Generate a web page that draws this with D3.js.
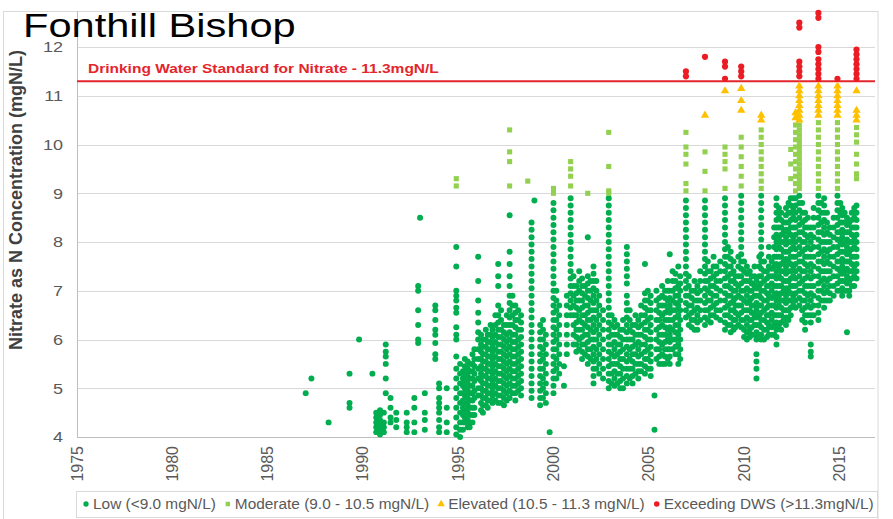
<!DOCTYPE html>
<html>
<head>
<meta charset="utf-8">
<script src="https://cdn.jsdelivr.net/npm/d3@7"></script>
<style>
    body { margin: 0; background: #fff; }
    svg { display: block; font-family: "Liberation Sans", Arial, sans-serif; }
</style>
</head>
<body>
<div id="chart"></div>
<script>
var chartTitle = "Fonthill Bishop";
var yAxisTitle = "Nitrate as N Concentration (mgN/L)";
var dwsLabel = "Drinking Water Standard for Nitrate - 11.3mgN/L";
var dwsValue = 11.3;

var yearTicks = [1975, 1980, 1985, 1990, 1995, 2000, 2005, 2010, 2015];
var valueTicks = [4, 5, 6, 7, 8, 9, 10, 11, 12];

var bandNames = ["Low (<9.0 mgN/L)", "Moderate (9.0 - 10.5 mgN/L)",
    "Elevated (10.5 - 11.3 mgN/L)", "Exceeding DWS (>11.3mgN/L)"];
var bandLimits = [9.0, 10.5, 11.3];

// [decimal year, nitrate readings taken around that time]
var samples1987to1994 = [
    [1987.0, [4.9]],
    [1987.3, [5.2]],
    [1988.2, [4.3]],
    [1989.3, [5.3, 4.7, 4.6]],
    [1989.8, [6.0]],
    [1990.5, [5.3]],
    [1990.7, [4.5, 4.4, 4.3, 4.2, 4.1]],
    [1990.9, [4.55, 4.45, 4.35, 4.25, 4.15, 4.05]],
    [1991.1, [4.5, 4.3, 4.2, 4.1]],
    [1991.2, [5.9, 5.75, 5.65, 5.5, 5.2, 4.9]],
    [1991.45, [4.8, 4.6, 4.4, 4.3]],
    [1991.75, [4.5, 4.35, 4.2]],
    [1992.3, [4.5, 4.3, 4.2, 4.1]],
    [1992.7, [4.8, 4.6, 4.3, 4.1]],
    [1992.9, [7.1, 7.0, 6.6, 6.3, 6.0, 5.93]],
    [1993.0, [8.5]],
    [1993.25, [4.9, 4.5, 4.35, 4.15]],
    [1993.8, [6.7, 6.6, 6.4, 6.2, 6.1, 5.93, 5.7, 5.6]],
    [1994.0, [5.1, 5.0, 4.8, 4.7, 4.6, 4.5, 4.35, 4.2, 4.1]],
    [1994.4, [5.0, 4.6, 4.3, 4.1]]
];

var samples1995to1999 = [
    [1994.9, [9.3, 9.15, 7.9, 7.5, 7.0, 6.9, 6.8, 6.65, 6.55, 6.25, 6.1, 6.0, 5.65, 5.4, 5.2, 5.0, 4.8, 4.6, 4.4, 4.2, 4.05]],
    [1995.1, [5.5, 5.3, 5.1, 4.9, 4.7, 4.5, 4.3, 4.15, 4.0]],
    [1995.25, [5.35, 5.2, 5.05, 4.9, 4.75, 4.6, 4.45, 4.3, 4.15]],
    [1995.35, [5.6, 5.45, 5.3, 5.15, 5.0, 4.85, 4.7, 4.55, 4.4, 4.3]],
    [1995.5, [5.55, 5.4, 5.25, 5.1, 4.95, 4.8, 4.65, 4.5, 4.35, 4.2]],
    [1995.6, [5.5, 5.35, 5.2, 5.05, 4.9, 4.75, 4.6, 4.45, 4.3, 4.2]],
    [1995.75, [5.7, 5.5, 5.35, 5.2, 5.05, 4.9, 4.75, 4.6, 4.45, 4.3]],
    [1995.85, [5.8, 5.6, 5.45, 5.3, 5.15, 4.95, 4.8, 4.6, 4.45]],
    [1996.05, [7.7, 7.2, 6.8, 6.55, 6.35, 6.15, 6.0, 5.8, 5.6, 5.4, 5.2, 5.0, 4.85]],
    [1996.2, [6.1, 5.9, 5.75, 5.6, 5.45, 5.3, 5.15, 5.0, 4.85, 4.7, 4.55]],
    [1996.3, [6.0, 5.85, 5.7, 5.55, 5.4, 5.25, 5.1, 4.95, 4.8, 4.65, 4.5]],
    [1996.45, [6.2, 6.0, 5.85, 5.7, 5.55, 5.4, 5.25, 5.1, 4.95, 4.8, 4.65]],
    [1996.55, [6.1, 5.95, 5.8, 5.65, 5.5, 5.35, 5.2, 5.05, 4.9, 4.75, 4.6]],
    [1996.7, [6.3, 6.1, 5.95, 5.8, 5.65, 5.5, 5.35, 5.2, 5.05, 4.9, 4.75]],
    [1996.8, [6.2, 6.05, 5.9, 5.75, 5.6, 5.45, 5.3, 5.15, 5.0, 4.85, 4.7]],
    [1996.95, [6.5, 6.3, 6.1, 5.95, 5.8, 5.65, 5.5, 5.35, 5.2, 5.05, 4.9, 4.75]],
    [1997.1, [7.55, 7.3, 7.1, 6.7, 6.5, 6.35, 6.2, 6.05, 5.9, 5.75, 5.6, 5.45, 5.3, 5.15, 5.0, 4.85, 4.7]],
    [1997.25, [6.6, 6.4, 6.2, 6.05, 5.9, 5.75, 5.6, 5.45, 5.3, 5.15, 5.0, 4.85, 4.7]],
    [1997.4, [6.3, 6.15, 6.0, 5.85, 5.7, 5.55, 5.4, 5.25, 5.1, 4.95, 4.8, 4.65]],
    [1997.55, [6.5, 6.3, 6.1, 5.95, 5.8, 5.65, 5.5, 5.35, 5.2, 5.05, 4.9, 4.75]],
    [1997.7, [10.3, 9.85, 9.65, 9.15, 8.55, 7.8, 7.55, 7.3, 7.1, 6.9, 6.75, 6.6, 6.45, 6.3, 6.15, 6.0, 5.85, 5.7, 5.55, 5.4, 5.25, 5.1, 4.95, 4.8]],
    [1997.85, [6.9, 6.7, 6.5, 6.3, 6.1, 5.95, 5.8, 5.65, 5.5, 5.35, 5.2, 5.05, 4.9]],
    [1998.0, [6.7, 6.55, 6.4, 6.25, 6.1, 5.95, 5.8, 5.65, 5.5, 5.35, 5.2, 5.05, 4.9, 4.75]],
    [1998.15, [6.6, 6.4, 6.2, 6.0, 5.85, 5.7, 5.55, 5.4, 5.25, 5.1, 4.95]],
    [1998.3, [6.5, 6.35, 6.2, 6.05, 5.9, 5.75, 5.6, 5.45, 5.3, 5.15, 5.0, 4.85]],
    [1998.65, [9.25]],
    [1998.85, [8.4, 8.25, 8.1, 7.95, 7.8, 7.65, 7.5, 7.35, 7.2, 7.05, 6.9, 6.75, 6.6, 6.45, 6.3, 6.15, 6.0, 5.85, 5.7, 5.55, 5.4, 5.25, 5.1, 4.95, 4.8]],
    [1999.0, [8.85]],
    [1999.3, [6.3, 6.15, 6.0, 5.85, 5.7, 5.55, 5.4, 5.25, 5.1, 4.95, 4.8, 4.65]],
    [1999.45, [6.4, 6.2, 6.0, 5.8, 5.6, 5.4, 5.2, 5.0, 4.8]],
    [1999.6, [6.1, 5.9, 5.7, 5.5, 5.3, 5.1, 4.9, 4.7]],
    [1999.8, [4.1]]
];

var samples2000to2004 = [
    [2000.0, [9.1, 9.0, 8.8, 8.65, 8.5, 8.35, 8.2, 8.05, 7.9, 7.75, 7.6, 7.45, 7.3, 7.15, 7.0, 6.85, 6.7, 6.55, 6.4, 6.25, 6.1, 5.95, 5.8, 5.65, 5.5, 5.35, 5.2, 5.05, 4.9]],
    [2000.15, [7.0, 6.8, 6.6, 6.4, 6.2, 6.0, 5.8, 5.6, 5.4, 5.2]],
    [2000.3, [6.7, 6.5, 6.3, 6.1, 5.9, 5.7, 5.5, 5.3]],
    [2000.55, [5.45, 5.05]],
    [2000.7, [6.9, 6.7, 6.5, 6.3, 6.1, 5.9, 5.7]],
    [2000.9, [9.65, 9.5, 9.35, 9.15, 8.9, 8.75, 8.6, 8.45, 8.3, 8.15, 8.0, 7.85, 7.7, 7.55, 7.4, 7.25, 7.1, 6.95, 6.8, 6.65, 6.5]],
    [2001.05, [7.3, 7.1, 6.9, 6.7, 6.5, 6.3, 6.1, 5.9]],
    [2001.2, [7.1, 6.95, 6.8, 6.65, 6.5, 6.35, 6.2, 6.05, 5.9, 5.75]],
    [2001.35, [7.4, 7.2, 7.0, 6.8, 6.6, 6.4, 6.2, 6.0, 5.8]],
    [2001.5, [7.25, 7.1, 6.95, 6.8, 6.65, 6.5, 6.35, 6.2, 6.05, 5.9, 5.75, 5.6]],
    [2001.65, [7.1, 6.9, 6.7, 6.5, 6.3, 6.1, 5.9, 5.7]],
    [2001.8, [9.0, 8.1, 7.3, 7.15, 7.0, 6.85, 6.7, 6.55, 6.4, 6.25, 6.1, 5.95, 5.8, 5.65, 5.5]],
    [2001.95, [7.2, 7.0, 6.8, 6.6, 6.4, 6.2, 6.0, 5.8, 5.6]],
    [2002.1, [7.5, 7.35, 7.2, 7.05, 6.9, 6.75, 6.6, 6.45, 6.3, 6.15, 6.0, 5.85, 5.7, 5.55, 5.4, 5.25, 5.1]],
    [2002.25, [7.2, 7.0, 6.8, 6.6, 6.4, 6.2, 6.0, 5.8, 5.6, 5.4]],
    [2002.4, [6.9, 6.7, 6.5, 6.3, 6.1, 5.9, 5.7, 5.5, 5.3]],
    [2002.6, [6.6, 6.4, 6.2, 6.0, 5.8, 5.6, 5.4, 5.2]],
    [2002.9, [10.25, 9.55, 9.05, 9.0, 8.9, 8.75, 8.6, 8.45, 8.3, 8.15, 8.0, 7.85, 7.7, 7.55, 7.4, 7.25, 7.1, 6.95, 6.8, 6.65, 6.5, 6.35, 6.2, 6.05, 5.9, 5.75, 5.6, 5.45, 5.3, 5.15, 5.0]],
    [2003.05, [6.5, 6.3, 6.1, 5.9, 5.7, 5.5, 5.3, 5.1]],
    [2003.2, [6.4, 6.25, 6.1, 5.95, 5.8, 5.65, 5.5, 5.35, 5.2, 5.05]],
    [2003.35, [6.3, 6.1, 5.9, 5.7, 5.5, 5.3, 5.1]],
    [2003.5, [6.2, 6.05, 5.9, 5.75, 5.6, 5.45, 5.3, 5.15, 5.0]],
    [2003.65, [6.4, 6.2, 6.0, 5.8, 5.6, 5.4, 5.2, 5.0]],
    [2003.85, [7.9, 7.75, 7.6, 7.45, 7.3, 7.15, 6.9, 6.75, 6.6, 6.45, 6.3, 6.15, 6.0, 5.85, 5.7, 5.55, 5.4, 5.25, 5.1]],
    [2004.0, [6.6, 6.4, 6.2, 6.0, 5.8, 5.6, 5.4, 5.2]],
    [2004.15, [6.3, 6.15, 6.0, 5.85, 5.7, 5.55, 5.4, 5.25, 5.1]],
    [2004.3, [6.5, 6.3, 6.1, 5.9, 5.7, 5.5, 5.3]],
    [2004.45, [6.4, 6.25, 6.1, 5.95, 5.8, 5.65, 5.5, 5.35, 5.2]],
    [2004.6, [6.7, 6.5, 6.3, 6.1, 5.9, 5.7, 5.5, 5.35]],
    [2004.8, [7.55, 6.95, 6.8, 6.65, 6.5, 6.35, 6.2, 6.05, 5.9, 5.75, 5.6, 5.45, 5.3]],
    [2004.95, [7.0, 6.8, 6.6, 6.4, 6.2, 6.0, 5.8, 5.6, 5.4]]
];

var samples2005to2009 = [
    [2005.1, [6.9, 6.75, 6.6, 6.45, 6.3, 6.15, 6.0, 5.85, 5.7, 5.55, 5.4, 5.25]],
    [2005.3, [4.85, 4.15]],
    [2005.4, [7.0, 6.8, 6.6, 6.4, 6.2, 6.0, 5.8, 5.6]],
    [2005.55, [6.85, 6.7, 6.55, 6.4, 6.25, 6.1, 5.95, 5.8, 5.65, 5.5]],
    [2005.7, [7.1, 6.9, 6.7, 6.5, 6.3, 6.1, 5.9, 5.7, 5.5]],
    [2005.85, [7.0, 6.85, 6.7, 6.55, 6.4, 6.25, 6.1, 5.95, 5.8, 5.65, 5.5]],
    [2006.0, [7.2, 7.0, 6.8, 6.6, 6.4, 6.2, 6.0, 5.8, 5.6]],
    [2006.1, [7.75, 7.0, 6.85, 6.7, 6.55, 6.4, 6.25, 6.1, 5.95, 5.8, 5.65, 5.5]],
    [2006.25, [7.4, 7.2, 7.0, 6.8, 6.6, 6.4, 6.2, 6.0, 5.8]],
    [2006.4, [7.35, 7.2, 7.05, 6.9, 6.75, 6.6, 6.45, 6.3, 6.15, 6.0, 5.85, 5.7]],
    [2006.55, [7.5, 7.1, 6.9, 6.7, 6.5, 6.3, 6.1, 5.9, 5.7, 5.5]],
    [2006.65, [7.3, 7.15, 7.0, 6.8, 6.6, 6.4, 6.2, 6.0, 5.8, 5.6]],
    [2006.95, [11.5, 11.4, 10.25, 9.95, 9.8, 9.6, 9.2, 9.05, 8.85, 8.7, 8.55, 8.4, 8.25, 8.1, 7.95, 7.8, 7.65, 7.5, 7.35, 7.2, 7.05, 6.9, 6.75, 6.6, 6.45]],
    [2007.1, [7.3, 7.1, 6.9, 6.7, 6.5, 6.3]],
    [2007.25, [7.0, 6.85, 6.7, 6.55, 6.4, 6.25]],
    [2007.4, [7.2, 7.0, 6.8, 6.6, 6.4, 6.2]],
    [2007.55, [7.1, 6.95, 6.8, 6.65, 6.5, 6.35, 6.2]],
    [2007.7, [7.4, 7.2, 7.0, 6.8, 6.6, 6.4]],
    [2007.95, [11.8, 10.6, 9.85, 9.45, 9.05, 8.85, 8.7, 8.55, 8.4, 8.25, 8.1, 7.95, 7.8, 7.65, 7.5, 7.35, 7.2, 7.05, 6.9, 6.75, 6.6, 6.45, 6.3]],
    [2008.1, [7.6, 7.4, 7.2, 7.0, 6.8, 6.6, 6.4]],
    [2008.25, [7.4, 7.25, 7.1, 6.95, 6.8, 6.65, 6.5, 6.35]],
    [2008.4, [7.7, 7.5, 7.3, 7.1, 6.9, 6.7, 6.5]],
    [2008.55, [7.5, 7.35, 7.2, 7.05, 6.9, 6.75, 6.6, 6.45]],
    [2008.75, [7.6, 7.4, 7.2, 7.0, 6.8, 6.6, 6.4]],
    [2009.0, [11.7, 11.6, 11.35, 11.1, 9.95, 9.8, 9.65, 9.5, 9.1, 8.9, 8.75, 8.6, 8.45, 8.3, 8.15, 8.0, 7.85, 7.7, 7.55, 7.4, 7.25, 7.1, 6.95, 6.8, 6.65, 6.5, 6.35, 6.2]],
    [2009.15, [7.9, 7.7, 7.5, 7.3, 7.1, 6.9, 6.7, 6.5, 6.3]],
    [2009.3, [7.8, 7.65, 7.5, 7.35, 7.2, 7.05, 6.9, 6.75, 6.6, 6.45, 6.3, 6.15]],
    [2009.45, [7.6, 7.4, 7.2, 7.0, 6.8, 6.6, 6.4, 6.2]],
    [2009.55, [7.3, 7.15, 7.0, 6.85, 6.7, 6.55, 6.4, 6.25]],
    [2009.7, [7.7, 7.5, 7.3, 7.1, 6.9, 6.7, 6.5, 6.3]],
    [2009.85, [11.6, 11.5, 11.4, 11.15, 10.9, 10.7, 10.15, 9.95, 9.75, 9.55, 9.35, 9.15, 8.95, 8.8, 8.65, 8.5, 8.35, 8.2, 8.05, 7.9, 7.75, 7.6, 7.45, 7.3, 7.15, 7.0, 6.85, 6.7, 6.55, 6.4, 6.25]]
];

var samples2010to2016 = [
    [2010.0, [7.6, 7.4, 7.2, 7.0, 6.8, 6.6, 6.4, 6.2, 6.05]],
    [2010.15, [7.5, 7.35, 7.2, 7.05, 6.9, 6.75, 6.6, 6.45, 6.3, 6.15, 6.0]],
    [2010.3, [7.4, 7.2, 7.0, 6.8, 6.6, 6.4, 6.2, 6.05]],
    [2010.4, [7.3, 7.15, 7.0, 6.85, 6.7, 6.55, 6.4, 6.25, 6.1]],
    [2010.55, [7.5, 7.3, 7.1, 6.9, 6.7, 6.5, 6.3, 6.1]],
    [2010.65, [7.2, 7.05, 6.9, 6.75, 6.6, 6.45, 6.3, 6.15, 6.0, 5.7, 5.55, 5.4, 5.2]],
    [2010.8, [7.7, 7.5, 7.3, 7.1, 6.9, 6.7, 6.5, 6.3, 6.1]],
    [2010.9, [10.6, 10.5, 10.3, 10.15, 10.0, 9.85, 9.7, 9.55, 9.4, 9.25, 9.1, 8.95, 8.8, 8.65, 8.5, 8.35, 8.2, 8.05, 7.9, 7.75, 7.6, 7.45, 7.3, 7.15, 7.0, 6.85, 6.7, 6.55, 6.4, 6.25, 6.1, 6.0]],
    [2011.05, [7.6, 7.4, 7.2, 7.0, 6.8, 6.6, 6.4, 6.2, 6.0]],
    [2011.2, [7.4, 7.25, 7.1, 6.95, 6.8, 6.65, 6.5, 6.35, 6.2, 6.05]],
    [2011.3, [7.9, 7.7, 7.5, 7.3, 7.1, 6.9, 6.7, 6.5, 6.3, 6.1]],
    [2011.45, [7.6, 7.45, 7.3, 7.15, 7.0, 6.85, 6.7, 6.55, 6.4, 6.25, 6.1]],
    [2011.58, [8.3, 8.1, 7.9, 7.7, 7.5, 7.3, 7.1, 6.9, 6.7, 6.5, 6.3, 6.1]],
    [2011.7, [8.9, 8.75, 8.6, 8.45, 8.3, 8.15, 8.0, 7.85, 7.7, 7.55, 7.4, 7.25, 7.1, 6.95, 6.8, 6.65, 6.5, 6.35, 6.2, 6.05, 5.9]],
    [2011.83, [8.7, 8.5, 8.3, 8.1, 7.9, 7.7, 7.5, 7.3, 7.1, 6.9, 6.7, 6.5, 6.3]],
    [2011.95, [8.6, 8.45, 8.3, 8.15, 8.0, 7.85, 7.7, 7.55, 7.4, 7.25, 7.1, 6.95, 6.8, 6.65, 6.5, 6.35, 6.2]],
    [2012.08, [8.4, 8.2, 8.0, 7.8, 7.6, 7.4, 7.2, 7.0, 6.8, 6.6, 6.4]],
    [2012.2, [8.7, 8.55, 8.4, 8.25, 8.1, 7.95, 7.8, 7.65, 7.5, 7.35, 7.2, 7.05, 6.9, 6.75, 6.6, 6.45, 6.3]],
    [2012.33, [8.8, 8.6, 8.4, 8.2, 8.0, 7.8, 7.6, 7.4, 7.2, 7.0, 6.8, 6.6, 6.4]],
    [2012.45, [9.9, 9.6, 9.3, 8.9, 8.75, 8.6, 8.45, 8.3, 8.15, 8.0, 7.85, 7.7, 7.55, 7.4, 7.25, 7.1, 6.95, 6.8, 6.65, 6.5]],
    [2012.58, [8.9, 8.7, 8.5, 8.3, 8.1, 7.9, 7.7, 7.5, 7.3, 7.1, 6.9, 6.7]],
    [2012.7, [10.65, 10.55, 10.4, 10.25, 10.1, 9.95, 9.8, 9.65, 9.5, 9.35, 9.2, 9.05, 8.9, 8.75, 8.6, 8.45, 8.3, 8.15, 8.0, 7.85, 7.7, 7.55, 7.4, 7.25, 7.1, 6.95, 6.8, 6.65]],
    [2012.9, [12.5, 12.4, 11.7, 11.6, 11.5, 11.4, 11.2, 11.1, 11.0, 10.9, 10.8, 10.7, 10.6, 10.5, 10.4, 10.3, 10.2, 10.1, 10.0, 9.9, 9.8, 9.7, 9.6, 9.5, 9.4, 9.3, 9.2, 9.1, 8.95, 8.8, 8.65, 8.5, 8.35, 8.2, 8.05, 7.9, 7.75, 7.6, 7.45, 7.3, 7.15, 7.0, 6.85, 6.7]],
    [2013.05, [8.8, 8.6, 8.4, 8.2, 8.0, 7.8, 7.6, 7.4, 7.2, 7.0, 6.8, 6.6, 6.4]],
    [2013.2, [8.6, 8.45, 8.3, 8.15, 8.0, 7.85, 7.7, 7.55, 7.4, 7.25, 7.1, 6.95, 6.8, 6.65, 6.5, 6.35, 6.2]],
    [2013.35, [8.5, 8.3, 8.1, 7.9, 7.7, 7.5, 7.3, 7.1, 6.9, 6.7, 6.5]],
    [2013.5, [8.3, 8.15, 8.0, 7.85, 7.7, 7.55, 7.4, 7.25, 7.1, 6.95, 6.8, 6.65, 6.5, 6.35, 5.9, 5.75, 5.65]],
    [2013.65, [8.7, 8.5, 8.3, 8.1, 7.9, 7.7, 7.5, 7.3, 7.1, 6.9, 6.7, 6.5]],
    [2013.9, [12.7, 12.6, 12.0, 11.9, 11.75, 11.65, 11.55, 11.45, 11.35, 11.2, 11.1, 11.0, 10.9, 10.8, 10.7, 10.6, 10.45, 10.3, 10.15, 10.0, 9.85, 9.7, 9.55, 9.4, 9.25, 9.1, 8.95, 8.8, 8.65, 8.5, 8.35, 8.2, 8.05, 7.9, 7.75, 7.6, 7.45, 7.3, 7.15, 7.0, 6.85, 6.7, 6.55, 6.4]],
    [2014.05, [8.8, 8.6, 8.4, 8.2, 8.0, 7.8, 7.6, 7.4, 7.2, 7.0, 6.8]],
    [2014.2, [8.9, 8.75, 8.6, 8.45, 8.3, 8.15, 8.0, 7.85, 7.7, 7.55, 7.4, 7.25, 7.1, 6.95, 6.8, 6.65]],
    [2014.35, [8.6, 8.4, 8.2, 8.0, 7.8, 7.6, 7.4, 7.2, 7.0, 6.8]],
    [2014.5, [8.3, 8.15, 8.0, 7.85, 7.7, 7.55, 7.4, 7.25, 7.1, 6.95, 6.8]],
    [2014.7, [8.5, 8.3, 8.1, 7.9, 7.7, 7.5, 7.3, 7.1, 6.9]],
    [2014.9, [11.35, 11.2, 11.1, 11.0, 10.9, 10.8, 10.7, 10.6, 10.45, 10.3, 10.15, 10.0, 9.85, 9.7, 9.55, 9.4, 9.25, 9.1, 8.95, 8.8, 8.65, 8.5, 8.35, 8.2, 8.05, 7.9, 7.75, 7.6, 7.45, 7.3, 7.15, 7.0]],
    [2015.05, [8.8, 8.6, 8.4, 8.2, 8.0, 7.8, 7.6, 7.4, 7.2, 7.0]],
    [2015.15, [8.7, 8.55, 8.4, 8.25, 8.1, 7.95, 7.8, 7.65, 7.5, 7.35, 7.2, 7.05, 6.9]],
    [2015.28, [8.6, 8.4, 8.2, 8.0, 7.8, 7.6, 7.4, 7.2, 7.0]],
    [2015.4, [8.5, 8.35, 8.2, 8.05, 7.9, 7.75, 7.6, 7.45, 7.3, 7.15, 7.0, 6.15]],
    [2015.52, [8.4, 8.2, 8.0, 7.8, 7.6, 7.4, 7.2, 7.0, 6.9]],
    [2015.65, [8.6, 8.45, 8.3, 8.15, 8.0, 7.85, 7.7, 7.55, 7.4, 7.25, 7.1]],
    [2015.78, [8.7, 8.5, 8.3, 8.1, 7.9, 7.7, 7.5, 7.3, 7.1]],
    [2015.9, [11.95, 11.85, 11.75, 11.65, 11.55, 11.45, 11.35, 11.1, 10.7, 10.6, 10.5, 10.35, 10.2, 10.05, 9.8, 9.6, 9.4, 9.3, 8.75, 8.6, 8.45, 8.3, 8.15, 8.0, 7.85, 7.7, 7.55, 7.4, 7.25]]
];

function classify(v) {
    if (v > bandLimits[2]) return 3;
    if (v >= bandLimits[1]) return 2;
    if (v >= bandLimits[0]) return 1;
    return 0;
}

function flattenSamples(groups) {
    var points = [];
    groups.forEach(function (g) {
        g.forEach(function (s) {
            s[1].forEach(function (v) {
                points.push({year: s[0], value: v, band: classify(v)});
            });
        });
    });
    // later bands are drawn on top, like the spreadsheet series order
    points.sort(function (a, b) { return a.band - b.band; });
    return points;
}

// the source picture is a little wider than tall, so horizontal texts get stretched
function stretchText(sel, factor) {
    var w = sel.node().getComputedTextLength();
    sel.attr("textLength", w * factor).attr("lengthAdjust", "spacingAndGlyphs");
    return w * factor;
}

function drawNitrateChart(id) {
    var width = 893, height = 519;
    var plot = {left: 77, right: 875, top: 11, bottom: 437};

    var svg = d3.select("#" + id).append("svg")
        .attr("width", width)
        .attr("height", height);

    svg.append("rect")
        .attr("width", width)
        .attr("height", height)
        .attr("fill", "#fff");

    // outer chart frame
    svg.append("rect")
        .attr("x", 3.5)
        .attr("y", 11.5)
        .attr("width", 874.5)
        .attr("height", 520)
        .attr("fill", "none")
        .attr("stroke", "#d9d9d9");

    var x = d3.scaleLinear().domain([1975, 2016.87]).range([plot.left, plot.right]);
    var y = d3.scaleLinear().domain([4, 12.74]).range([plot.bottom, plot.top]);

    var z = d3.scaleOrdinal()
        .domain([0, 1, 2, 3])
        .range(["#00ad4f", "#92d050", "#ffc000", "#ec1c24"]);
    var shapes = [d3.symbolCircle, d3.symbolSquare, d3.symbolTriangle, d3.symbolCircle];
    var sizes = [28, 26, 30, 30];

    // gridlines
    svg.append("g")
        .selectAll("line")
        .data(valueTicks.slice(1))
        .enter().append("line")
        .attr("x1", plot.left)
        .attr("x2", plot.right)
        .attr("y1", function (d) { return Math.round(y(d)) + 0.5; })
        .attr("y2", function (d) { return Math.round(y(d)) + 0.5; })
        .attr("stroke", "#d9d9d9");

    // axes lines
    svg.append("line")
        .attr("x1", plot.left).attr("x2", plot.right)
        .attr("y1", plot.bottom + 0.5).attr("y2", plot.bottom + 0.5)
        .attr("stroke", "#bfbfbf");
    svg.append("line")
        .attr("x1", plot.left + 0.5).attr("x2", plot.left + 0.5)
        .attr("y1", plot.top).attr("y2", plot.bottom)
        .attr("stroke", "#bfbfbf");

    // y tick labels
    svg.append("g")
        .selectAll("text")
        .data(valueTicks)
        .enter().append("text")
        .attr("x", 63)
        .attr("y", function (d) { return y(d); })
        .attr("dy", "0.35em")
        .attr("text-anchor", "end")
        .attr("font-size", 15)
        .attr("fill", "#595959")
        .text(function (d) { return d; })
        .each(function () { stretchText(d3.select(this), 1.2); });

    // x tick labels, rotated
    svg.append("g")
        .selectAll("text")
        .data(yearTicks)
        .enter().append("text")
        .attr("transform", function (d) {
            return "translate(" + x(d) + "," + (plot.bottom + 9) + ") rotate(-90)";
        })
        .attr("dy", "0.35em")
        .attr("text-anchor", "end")
        .attr("font-size", 16)
        .attr("fill", "#595959")
        .text(function (d) { return d; });

    // y axis title
    svg.append("text")
        .attr("transform", "translate(16,200) rotate(-90)")
        .attr("dy", "0.35em")
        .attr("text-anchor", "middle")
        .attr("font-size", 18)
        .attr("font-weight", "bold")
        .attr("fill", "#404040")
        .text(yAxisTitle);

    // drinking water standard line
    svg.append("line")
        .attr("x1", plot.left).attr("x2", plot.right)
        .attr("y1", y(dwsValue)).attr("y2", y(dwsValue))
        .attr("stroke", "#e3262c")
        .attr("stroke-width", 2);
    var dws = svg.append("text")
        .attr("x", 88)
        .attr("y", 73)
        .attr("font-size", 12.5)
        .attr("font-weight", "bold")
        .attr("fill", "#e3262c")
        .text(dwsLabel);
    stretchText(dws, 1.24);

    // points
    var points = flattenSamples([samples1987to1994, samples1995to1999,
        samples2000to2004, samples2005to2009, samples2010to2016]);

    svg.append("g")
        .selectAll("path")
        .data(points)
        .enter().append("path")
        .attr("transform", function (d) {
            return "translate(" + x(d.year) + "," + y(d.value) + ")";
        })
        .attr("d", function (d) {
            return d3.symbol().type(shapes[d.band]).size(sizes[d.band])();
        })
        .attr("fill", function (d) { return z(d.band); });

    // legend
    svg.append("rect")
        .attr("x", 76.5)
        .attr("y", 491.5)
        .attr("width", 801)
        .attr("height", 26)
        .attr("fill", "#fff")
        .attr("stroke", "#d9d9d9");

    var lx = 86;
    bandNames.forEach(function (name, i) {
        svg.append("path")
            .attr("transform", "translate(" + lx + ",504)")
            .attr("d", d3.symbol().type(shapes[i]).size(sizes[i] - 6)())
            .attr("fill", z(i));
        var t = svg.append("text")
            .attr("x", lx + 7)
            .attr("y", 504)
            .attr("dy", "0.35em")
            .attr("font-size", 14)
            .attr("fill", "#595959")
            .text(name);
        lx += 7 + stretchText(t, 1.1) + 12;
    });

    // title
    var title = svg.append("text")
        .attr("x", 23)
        .attr("y", 37)
        .attr("font-size", 33)
        .attr("fill", "#000")
        .text(chartTitle);
    stretchText(title, 1.26);
}

drawNitrateChart("chart");
</script>
</body>
</html>
